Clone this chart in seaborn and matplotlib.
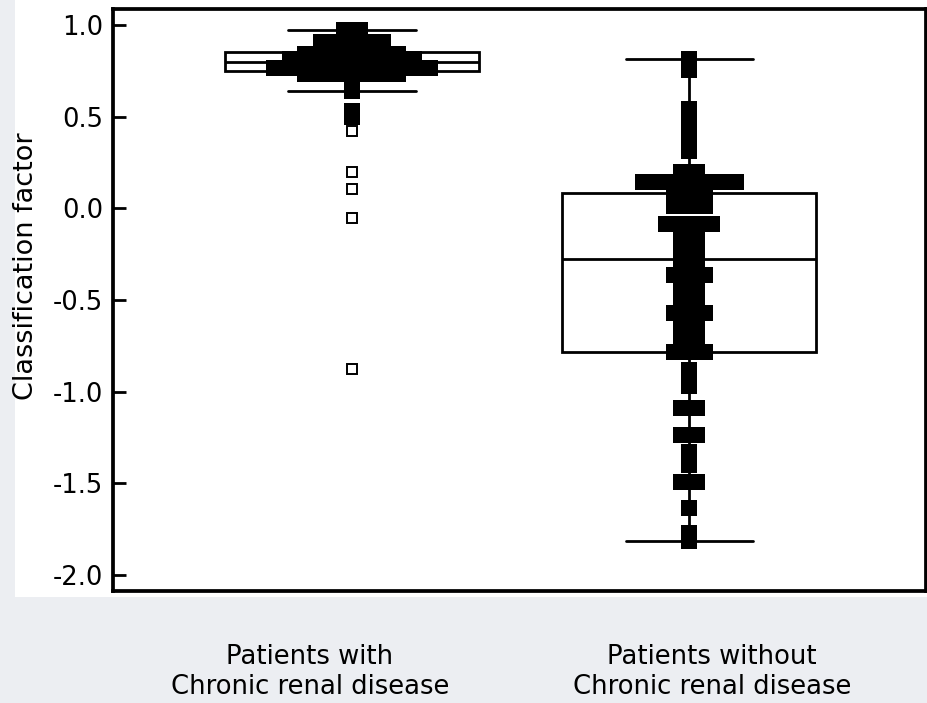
import numpy as np
import pandas as pd
import matplotlib
matplotlib.use("Agg")
import matplotlib.pyplot as plt
from matplotlib.patches import Rectangle
import seaborn as sns

# ---------------- data ----------------
groups = ["Patients with\nChronic renal disease",
          "Patients without\nChronic renal disease"]

# Patients with chronic renal disease: value levels and number of dots per level
crd_values = [0.974, 0.94, 0.925, 0.909, 0.885, 0.87, 0.854, 0.839, 0.812, 0.80,
              0.785, 0.768, 0.749, 0.733, 0.71, 0.69, 0.64, 0.53, 0.50,
              0.42, 0.20, 0.107, -0.055, -0.875]
crd_counts = [2, 1, 2, 5, 5, 2, 1, 7, 9, 1,
              5, 11, 1, 7, 1, 1, 1, 1, 1,
              1, 1, 1, 1, 1]

# Patients without chronic renal disease
non_values = [0.815, 0.755, 0.54, 0.465, 0.39, 0.315, 0.198, 0.145, 0.086, 0.01,
              -0.084, -0.16, -0.22, -0.275, -0.364, -0.448, -0.489, -0.573, -0.658,
              -0.697, -0.785, -0.88, -0.97, -1.09, -1.235, -1.33, -1.40, -1.495,
              -1.632, -1.77, -1.815]
non_counts = [1, 1, 1, 1, 1, 1, 2, 7, 3, 3,
              4, 2, 2, 2, 3, 2, 2, 3, 2,
              2, 3, 1, 1, 2, 2, 1, 1, 2,
              1, 1, 1]

y_ticks = [-2.0, -1.5, -1.0, -0.5, 0.0, 0.5, 1.0]
y_label = "Classification factor"

# ---------------- style ----------------
sns.set_style("white")
plt.rcParams["font.family"] = ["DejaVu Sans"]
plt.rcParams["axes.unicode_minus"] = False

DOT_W = 0.046          # width of one square in category units
LABEL_SHIFT = [-0.125, 0.068]

rows = []
for gi, (vals, cnts) in enumerate([(crd_values, crd_counts), (non_values, non_counts)]):
    for v, n in zip(vals, cnts):
        for k in range(n):
            rows.append(dict(group=groups[gi], pos=gi, value=v, slot=k - (n - 1) / 2))
df = pd.DataFrame(rows)

# dots drawn filled unless they are "far out" (beyond 3 IQR)
keep = np.zeros(len(df), dtype=bool)
for g in groups:
    m = (df["group"] == g).to_numpy()
    q1, q3 = np.percentile(df.loc[m, "value"], [25, 75])
    iqr = q3 - q1
    keep |= m & (df["value"] >= q1 - 3 * iqr).to_numpy() & (df["value"] <= q3 + 3 * iqr).to_numpy()
dots = df[keep].copy()
dots["x"] = dots["pos"] + dots["slot"] * DOT_W

fig = plt.figure(figsize=(9.28, 7.03), dpi=100, facecolor="#eceef2")
fig.add_artist(Rectangle((15 / 928, 1 - 597 / 703), 913 / 928, 597 / 703,
                         transform=fig.transFigure, facecolor="white",
                         edgecolor="none", zorder=-10))
ax = fig.add_axes([113 / 928, 1 - 591 / 703, 813 / 928, (591 - 9.2) / 703])
ax.set_facecolor("white")

sns.boxplot(data=df, x="group", y="value", order=groups, width=0.754,
            color="white", linecolor="black", linewidth=2.0, whis=1.5,
            fliersize=6.8,
            flierprops=dict(marker="s", markerfacecolor="white",
                            markeredgecolor="black", markeredgewidth=1.4),
            ax=ax)

sns.scatterplot(data=dots, x="x", y="value", marker="s", s=124, color="black",
                linewidth=0, legend=False, zorder=5, ax=ax)

ax.set_xlim(-0.709, 1.703)
ax.set_ylim(-2.087, 1.086)
ax.set_yticks(y_ticks)
ax.set_yticklabels([f"{t:.1f}" for t in y_ticks])
ax.set_xticks([0 + LABEL_SHIFT[0], 1 + LABEL_SHIFT[1]])
ax.set_xticklabels(groups)

for s in ax.spines.values():
    s.set_visible(True)
    s.set_linewidth(2.7)
    s.set_color("black")

ax.tick_params(axis="y", direction="in", length=9.4, width=2.0, pad=7,
               labelsize=18.6, colors="black", left=True, right=False)
ax.tick_params(axis="x", length=0, pad=38, labelsize=18.6, colors="black")
ax.set_xlabel("")
ax.set_ylabel(y_label, fontsize=19.5, color="black")
ax.yaxis.set_label_coords(-0.091, 0.5586)

fig.savefig("out.png", dpi=100, facecolor=fig.get_facecolor())
